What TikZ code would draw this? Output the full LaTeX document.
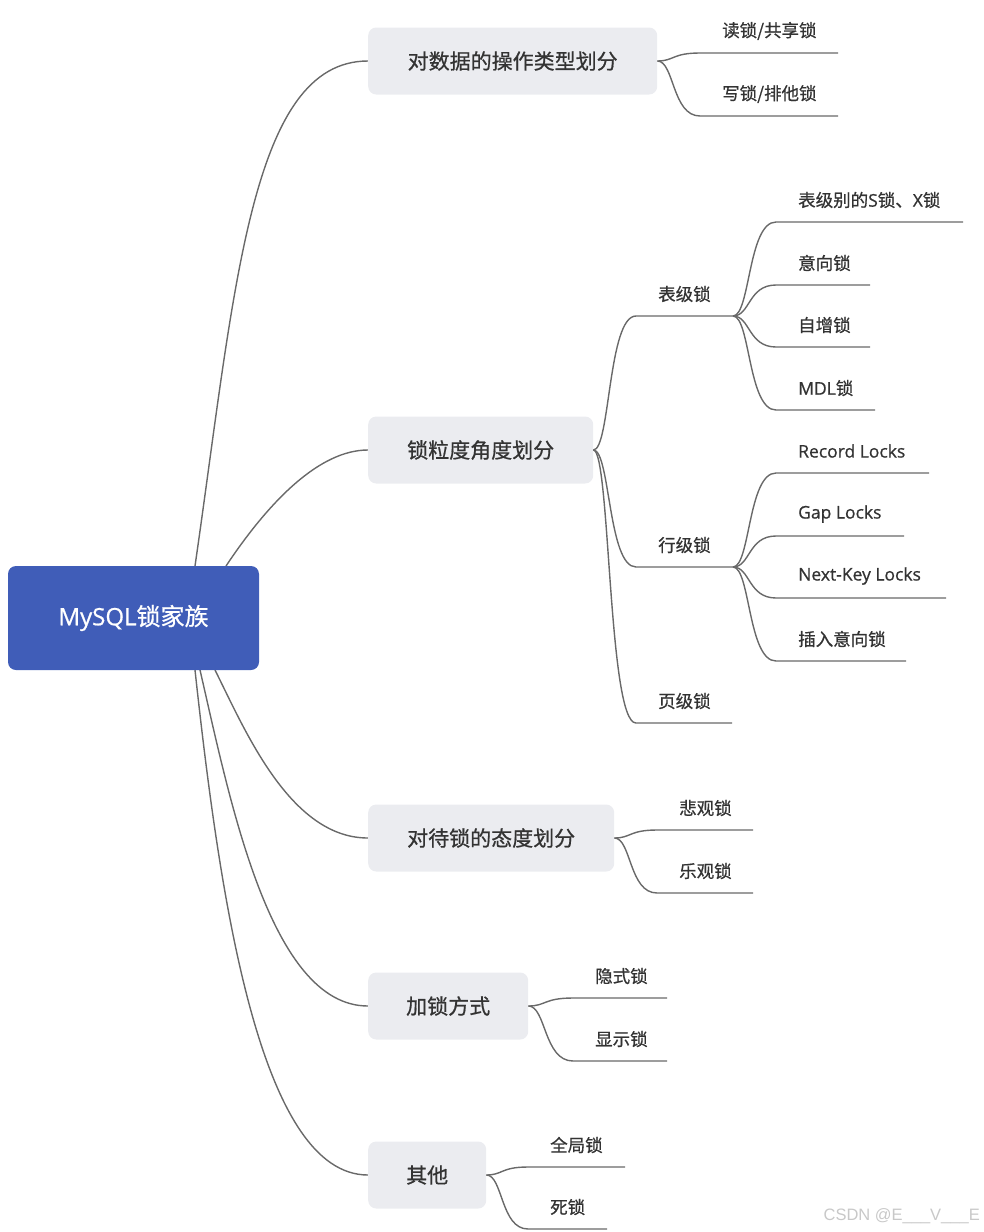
\documentclass[tikz,border=0pt]{standalone}
\usepackage{fontspec}
\setmainfont{Noto Sans CJK SC}[FakeBold=0.7]
\newfontfamily\lat{Open Sans}[FakeBold=0.7]
\newfontfamily\wmfont{Liberation Sans}
\usetikzlibrary{backgrounds}
\definecolor{rootblue}{RGB}{64,93,184}
\definecolor{boxgray}{RGB}{235,236,240}
\definecolor{linegray}{RGB}{105,105,105}
\definecolor{textdark}{RGB}{51,51,51}
\definecolor{wmgray}{RGB}{200,200,200}
\tikzset{
  conn/.style={draw=linegray, line width=1.4pt},
  rootbox/.style={fill=rootblue, rounded corners=8pt, inner sep=0pt, minimum width=251pt, minimum height=104pt, text=white, font=\fontsize{24}{28}\selectfont},
  topic/.style={fill=boxgray, rounded corners=8pt, inner sep=0pt, minimum height=67pt, anchor=west, text=textdark, font=\fontsize{21}{25}\selectfont},
  leaf/.style={anchor=west, inner sep=0pt, text=textdark, font=\fontsize{17.5}{21}\selectfont},
  wm/.style={anchor=base east, inner sep=0pt, text=wmgray, font=\wmfont\fontsize{16.5}{19}\selectfont}
}
% #1 name, #2 parent anchor, #3 px, #4 py, #5 line start x, #6 line end x, #7 line y, #8 text
\newcommand\leafitem[8]{%
  \coordinate (#1s) at (#5,#7);
  \coordinate (#1e) at (#6,#7);
  \node[leaf] (#1) at ({#5+22},{#7-22}) {#8};
  \draw[conn] (#2) .. controls ({#3+0.4*(#5-#3)},#4) and ({#3+0.35*(#5-#3)},#7) .. (#1s) -- (#1e);
}
\begin{document}
\begin{tikzpicture}[x=1pt,y=-1pt]
\useasboundingbox (0,0) rectangle (984,1232);

\node[rootbox] (root) at (133.5,618) {{\lat MySQL}锁家族};

\node[topic, minimum width=289pt] (t1) at (368,61) {对数据的操作类型划分};
\node[topic, minimum width=225pt] (t2) at (368,450) {锁粒度角度划分};
\node[topic, minimum width=246pt] (t3) at (368,838) {对待锁的态度划分};
\node[topic, minimum width=160pt] (t4) at (368,1006) {加锁方式};
\node[topic, minimum width=118pt] (t5) at (368,1175) {其他};

\begin{pgfonlayer}{background}
\coordinate (r1) at (195,566);
\coordinate (r2) at (226,566);
\coordinate (r3) at (215,670);
\coordinate (r4) at (200,670);
\coordinate (r5) at (195,670);
\draw[conn] (r1) .. controls (235,290) and (250,61) .. (t1.west);
\draw[conn] (r2) .. controls (270,500) and (320,450) .. (t2.west);
\draw[conn] (r3) .. controls (245,730) and (290,838) .. (t3.west);
\draw[conn] (r4) .. controls (230,800) and (270,1006) .. (t4.west);
\draw[conn] (r5) .. controls (220,900) and (260,1175) .. (t5.west);
\end{pgfonlayer}

% level 2
\leafitem{a1}{t1.east}{657}{61}{700}{838}{53}{读锁/共享锁}
\leafitem{a2}{t1.east}{657}{61}{700}{838}{116}{写锁/排他锁}

\leafitem{b1}{t2.east}{593}{450}{636}{733}{316}{表级锁}
\leafitem{b2}{t2.east}{593}{450}{636}{733}{567}{行级锁}
\leafitem{b3}{t2.east}{593}{450}{636}{732}{723}{页级锁}

\coordinate (b1x) at (733,316);
\coordinate (b2x) at (733,567);
\leafitem{c1}{b1x}{733}{316}{776}{963}{222}{表级别的{\lat S}锁、{\lat X}锁}
\leafitem{c2}{b1x}{733}{316}{776}{870}{285}{意向锁}
\leafitem{c3}{b1x}{733}{316}{776}{870}{347}{自增锁}
\leafitem{c4}{b1x}{733}{316}{776}{875}{410}{{\lat MDL}锁}

\leafitem{d1}{b2x}{733}{567}{776}{929}{473}{\lat Record Locks}
\leafitem{d2}{b2x}{733}{567}{776}{904}{536}{\lat Gap Locks}
\leafitem{d3}{b2x}{733}{567}{776}{946}{598}{\lat Next-Key Locks}
\leafitem{d4}{b2x}{733}{567}{776}{906}{661}{插入意向锁}

\leafitem{e1}{t3.east}{614}{838}{657}{753}{830}{悲观锁}
\leafitem{e2}{t3.east}{614}{838}{657}{753}{893}{乐观锁}

\leafitem{f1}{t4.east}{528}{1006}{573}{667}{998}{隐式锁}
\leafitem{f2}{t4.east}{528}{1006}{573}{667}{1061}{显示锁}

\leafitem{g1}{t5.east}{486}{1175}{528}{625}{1167}{全局锁}
\leafitem{g2}{t5.east}{486}{1175}{528}{607}{1229}{死锁}

\node[wm] (wm) at (980,1220) {CSDN @E\_\_\_V\_\_\_E};
\end{tikzpicture}
\end{document}
